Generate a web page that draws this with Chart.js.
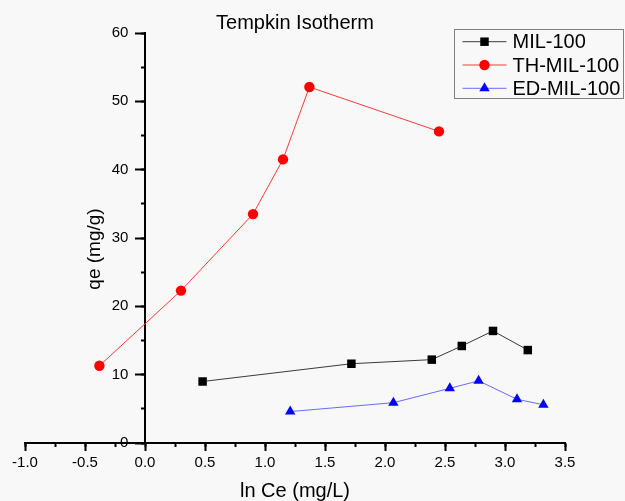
<!DOCTYPE html>
<html>
<head>
<meta charset="utf-8">
<title>Tempkin Isotherm</title>
<script src="https://cdn.jsdelivr.net/npm/chart.js@4/dist/chart.umd.min.js"></script>
<style>
  html, body { margin: 0; padding: 0; background: #f8f8f8; }
  #wrap { width: 625px; height: 501px; }
  canvas { display: block; }
</style>
</head>
<body>
<div id="wrap"><canvas id="chart" width="625" height="501"></canvas></div>
<script>
// Series names
const seriesNames = ['MIL-100', 'TH-MIL-100', 'ED-MIL-100'];

// ln Ce (x) and qe (y) for each adsorbent
const milX = [0.48, 1.72, 2.39, 2.64, 2.90, 3.19];
const milY = [9.0, 11.6, 12.2, 14.2, 16.4, 13.6];

const thX = [-0.38, 0.30, 0.90, 1.15, 1.37, 2.45];
const thY = [11.3, 22.3, 33.5, 41.5, 52.1, 45.6];

const edX = [1.21, 2.07, 2.54, 2.78, 3.10, 3.32];
const edY = [4.6, 5.9, 8.0, 9.1, 6.4, 5.6];

// Axis ranges and tick steps
const xRange = [-1.0, 3.5];
const xMajorStep = 0.5;
const xMinorStep = 0.25;
const yRange = [0, 60];
const yMajorStep = 10;
const yMinorStep = 5;

const FONT = '"Liberation Sans", Arial, sans-serif';

function pts(xs, ys) {
  return xs.map((x, i) => ({ x: x, y: ys[i] }));
}

// Page background
const backgroundPlugin = {
  id: 'pageBackground',
  beforeDraw(chart) {
    const ctx = chart.ctx;
    ctx.save();
    ctx.fillStyle = '#f8f8f8';
    ctx.fillRect(0, 0, chart.width, chart.height);
    ctx.restore();
  }
};

// Rotated y-axis title placed left of the y axis that crosses at x = 0
const yTitlePlugin = {
  id: 'yTitle',
  afterDraw(chart) {
    const ctx = chart.ctx;
    const area = chart.chartArea;
    const axisX = chart.scales.x.getPixelForValue(0);
    ctx.save();
    ctx.translate(axisX - 50, (area.top + area.bottom) / 2 + 11);
    ctx.rotate(-Math.PI / 2);
    ctx.font = '19px ' + FONT;
    ctx.fillStyle = '#000';
    ctx.textAlign = 'center';
    ctx.textBaseline = 'middle';
    ctx.fillText('qe (mg/g)', 0, 0);
    ctx.restore();
  }
};

// Boxed legend with line + marker samples in the upper-right corner
const boxLegendPlugin = {
  id: 'boxLegend',
  afterDraw(chart) {
    const ctx = chart.ctx;
    const box = { left: 454.5, top: 29.5, width: 169, height: 69 };
    const rowH = 23.3;
    ctx.save();
    ctx.strokeStyle = '#808080';
    ctx.lineWidth = 1;
    ctx.strokeRect(box.left, box.top, box.width, box.height);
    chart.data.datasets.forEach((ds, i) => {
      const cy = box.top + 12.2 + i * rowH;
      ctx.strokeStyle = ds.borderColor;
      ctx.lineWidth = 1;
      ctx.beginPath();
      ctx.moveTo(box.left + 8, cy);
      ctx.lineTo(box.left + 52, cy);
      ctx.stroke();
      ctx.fillStyle = ds.backgroundColor;
      ctx.strokeStyle = ds.backgroundColor;
      Chart.helpers.drawPoint(ctx, {
        pointStyle: ds.pointStyle,
        radius: ds.pointRadius,
        rotation: 0,
        borderWidth: 0
      }, box.left + 30, cy);
      ctx.fillStyle = '#000';
      ctx.font = '20px ' + FONT;
      ctx.textAlign = 'left';
      ctx.textBaseline = 'middle';
      ctx.fillText(ds.label, box.left + 58, cy + 1);
    });
    ctx.restore();
  }
};

const tickFont = { family: FONT, size: 15 };

new Chart(document.getElementById('chart'), {
  type: 'scatter',
  data: {
    datasets: [
      {
        label: seriesNames[0],
        data: pts(milX, milY),
        showLine: true,
        borderColor: '#3a3a3a',
        borderWidth: 1,
        backgroundColor: '#000000',
        pointBackgroundColor: '#000000',
        pointBorderColor: '#000000',
        pointBorderWidth: 0,
        pointStyle: 'rect',
        pointRadius: 6,
        xAxisID: 'x',
        yAxisID: 'y'
      },
      {
        label: seriesNames[1],
        data: pts(thX, thY),
        showLine: true,
        borderColor: '#ff3a3a',
        borderWidth: 1,
        backgroundColor: '#ff0000',
        pointBackgroundColor: '#ff0000',
        pointBorderColor: '#ff0000',
        pointBorderWidth: 0,
        pointStyle: 'circle',
        pointRadius: 5.2,
        xAxisID: 'x',
        yAxisID: 'y'
      },
      {
        label: seriesNames[2],
        data: pts(edX, edY),
        showLine: true,
        borderColor: '#6a6aff',
        borderWidth: 1,
        backgroundColor: '#0000ff',
        pointBackgroundColor: '#0000ff',
        pointBorderColor: '#0000ff',
        pointBorderWidth: 0,
        pointStyle: 'triangle',
        pointRadius: 6,
        xAxisID: 'x',
        yAxisID: 'y'
      }
    ]
  },
  options: {
    responsive: false,
    animation: false,
    devicePixelRatio: 1,
    layout: { padding: { left: 25, right: 60, top: 0, bottom: 0 } },
    plugins: {
      legend: { display: false },
      tooltip: { enabled: false },
      title: {
        display: true,
        text: 'Tempkin Isotherm',
        color: '#000',
        font: { family: FONT, size: 20, weight: 'normal', lineHeight: 1 },
        padding: { top: 13, bottom: 0 }
      }
    },
    scales: {
      x: {
        type: 'linear',
        position: 'bottom',
        min: xRange[0],
        max: xRange[1],
        ticks: {
          stepSize: xMajorStep,
          autoSkip: false,
          maxRotation: 0,
          color: '#000',
          font: tickFont,
          padding: 3,
          callback: (v) => Number(v).toFixed(1)
        },
        grid: { drawOnChartArea: false, drawTicks: true, tickLength: 8, tickWidth: 2, tickColor: '#000' },
        border: { display: true, color: '#000', width: 2 },
        title: {
          display: true,
          text: 'ln Ce (mg/L)',
          color: '#000',
          font: { family: FONT, size: 20, lineHeight: 1 },
          padding: { top: 6, bottom: 0 }
        }
      },
      xMinor: {
        axis: 'x',
        type: 'linear',
        position: { y: 0 },
        min: xRange[0],
        max: xRange[1],
        ticks: { stepSize: xMinorStep, autoSkip: false, display: false },
        grid: { drawOnChartArea: false, drawTicks: true, tickLength: 4, tickWidth: 2, tickColor: '#000' },
        border: { display: false }
      },
      y: {
        type: 'linear',
        position: { x: 0 },
        min: yRange[0],
        max: yRange[1],
        ticks: {
          stepSize: yMajorStep,
          autoSkip: false,
          color: '#000',
          font: tickFont,
          // trailing gap keeps the right-aligned numbers clear of the tick marks
          callback: (v) => String(v) + '    '
        },
        grid: { drawOnChartArea: false, drawTicks: true, tickLength: 9, tickWidth: 2, tickColor: '#000' },
        border: { display: true, color: '#000', width: 2 }
      },
      yMinor: {
        axis: 'y',
        type: 'linear',
        position: { x: 0 },
        min: yRange[0],
        max: yRange[1],
        ticks: { stepSize: yMinorStep, autoSkip: false, display: false },
        grid: { drawOnChartArea: false, drawTicks: true, tickLength: 4, tickWidth: 2, tickColor: '#000' },
        border: { display: false }
      }
    }
  },
  plugins: [backgroundPlugin, yTitlePlugin, boxLegendPlugin]
});
</script>
</body>
</html>
